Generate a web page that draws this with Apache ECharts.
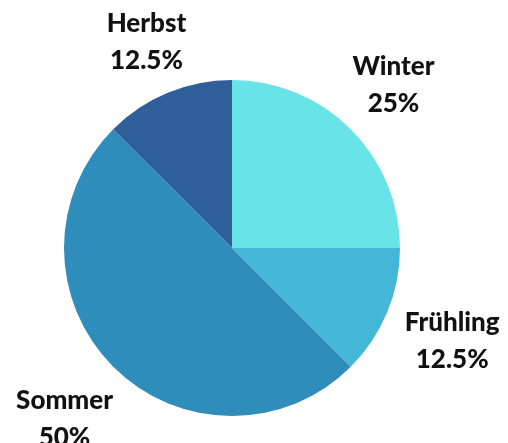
<!DOCTYPE html>
<html>
<head>
<meta charset="utf-8">
<script src="https://cdn.jsdelivr.net/npm/echarts@6/dist/echarts.min.js"></script>
<style>
  html, body { margin: 0; padding: 0; background: #fff; }
  #chart { width: 508px; height: 443px; }
</style>
</head>
<body>
<div id="chart"></div>
<script>
// Jahreszeiten
const seasons = ['Winter', 'Frühling', 'Sommer', 'Herbst']
const shares = [25, 12.5, 50, 12.5]
const colors = ['#68e3e8', '#44b7d6', '#2e8dbb', '#2e5f99']
// small nudges so each label sits where the reference has it
const labelNudge = [[-4, 3], [4, 4], [-2, 6], [4, 10]]

const pieData = seasons.map((name, i) => ({
    name: name,
    value: shares[i],
    itemStyle: { color: colors[i] }
}))

const chart = echarts.init(document.getElementById('chart'))
chart.setOption({
    animation: false,
    series: [
        {
            // the visible pie
            type: 'pie',
            center: [232, 248],
            radius: [0, 168],
            startAngle: 90,
            clockwise: true,
            silent: true,
            label: { show: false },
            labelLine: { show: false },
            data: pieData
        },
        {
            // transparent ring only used to place the labels
            type: 'pie',
            center: [232, 248],
            radius: [0, 462],
            startAngle: 90,
            clockwise: true,
            silent: true,
            itemStyle: { color: 'rgba(0,0,0,0)' },
            label: {
                show: true,
                position: 'inside',
                formatter: p => p.name + '\n' + p.value + '%',
                color: '#111',
                fontFamily: 'Lato',
                fontWeight: 900,
                fontSize: 26,
                lineHeight: 37,
                align: 'center'
            },
            labelLine: { show: false },
            data: seasons.map((name, i) => ({
                name: name,
                value: shares[i],
                label: { offset: labelNudge[i] }
            }))
        }
    ]
})
</script>
</body>
</html>
